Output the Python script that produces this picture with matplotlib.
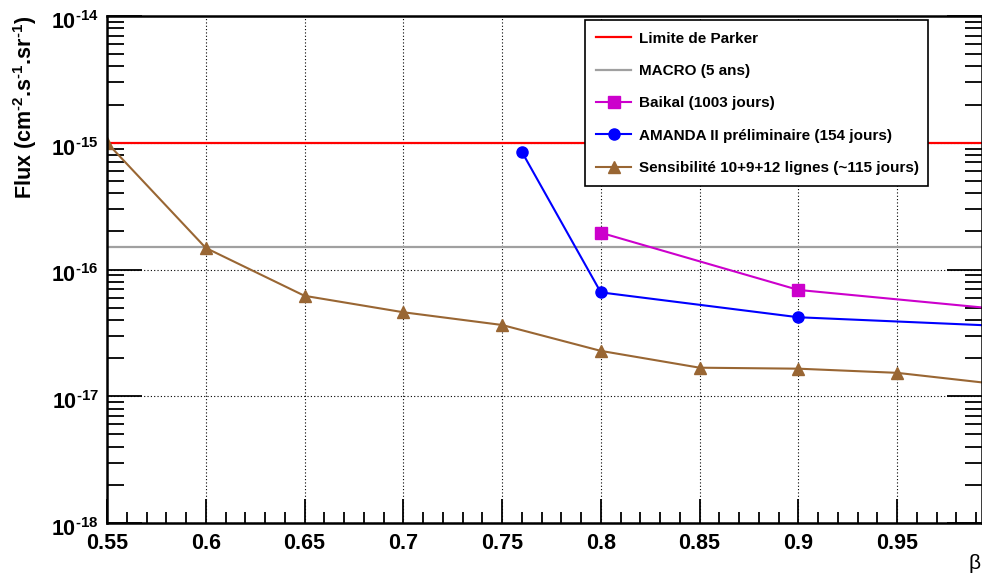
import matplotlib
matplotlib.use("Agg")
import matplotlib.pyplot as plt
import matplotlib.ticker as mticker
import matplotlib.transforms as mtrans
import numpy as np

plt.rcParams['font.family'] = ['Liberation Sans', 'DejaVu Sans']
plt.rcParams['mathtext.fontset'] = 'custom'
plt.rcParams['mathtext.rm'] = 'Liberation Sans:bold'
plt.rcParams['mathtext.bf'] = 'Liberation Sans:bold'
plt.rcParams['mathtext.it'] = 'Liberation Sans:bold'

# data
parker = 1.0e-15
macro = 1.5e-16

baikal_beta = [0.8, 0.9, 1.0]
baikal_flux = [1.95e-16, 6.9e-17, 4.9e-17]

amanda_beta = [0.76, 0.8, 0.9, 1.0]
amanda_flux = [8.5e-16, 6.6e-17, 4.2e-17, 3.6e-17]

sens_beta = [0.55, 0.6, 0.65, 0.7, 0.75, 0.8, 0.85, 0.9, 0.95, 1.0]
sens_flux = [1.0e-15, 1.48e-16, 6.2e-17, 4.6e-17, 3.65e-17, 2.28e-17,
             1.68e-17, 1.65e-17, 1.53e-17, 1.25e-17]

fig = plt.figure(figsize=(9.82, 5.75), dpi=100)
ax = fig.add_axes([107/982, 1 - 523/575, 875/982, 507/575])

ax.axhline(parker, color='#ff0000', lw=1.6, label='Limite de Parker')
ax.axhline(macro, color='#a0a0a0', lw=1.6, label='MACRO (5 ans)')
ax.plot(baikal_beta, baikal_flux, color='#cc00cc', lw=1.5, marker='s', ms=8,
        label='Baikal (1003 jours)')
ax.plot(amanda_beta, amanda_flux, color='#0000ff', lw=1.5, marker='o', ms=8,
        label='AMANDA II préliminaire (154 jours)')
ax.plot(sens_beta, sens_flux, color='#996633', lw=1.5, marker='^', ms=8,
        label='Sensibilité 10+9+12 lignes (~115 jours)')

ax.set_yscale('log')
ax.set_ylim(1e-18, 1e-14)
ax.set_xlim(0.55, 0.993)

ax.xaxis.set_major_locator(mticker.MultipleLocator(0.05))
ax.xaxis.set_minor_locator(mticker.MultipleLocator(0.01))
ax.xaxis.set_major_formatter(mticker.FuncFormatter(lambda v, p: f'{v:g}'))
ax.yaxis.set_major_locator(mticker.FixedLocator([1e-18, 1e-17, 1e-16, 1e-15, 1e-14]))
ax.yaxis.set_minor_locator(mticker.LogLocator(base=10, subs=np.arange(2, 10), numticks=20))
ax.yaxis.set_major_formatter(mticker.FuncFormatter(
    lambda v, p: r'$\mathbf{10^{\text{-}%d}}$' % abs(round(np.log10(v)))))
ax.yaxis.set_minor_formatter(mticker.NullFormatter())

ax.tick_params(axis='both', which='both', direction='in', right=True, top=False,
               labelsize=15.5, width=1.3)
ax.tick_params(axis='y', which='major', length=25, pad=6)
ax.tick_params(axis='y', which='minor', length=12)
ax.tick_params(axis='x', which='major', length=17, pad=7)
ax.tick_params(axis='x', which='minor', length=8)
for lab in ax.get_xticklabels():
    lab.set_fontweight('bold')
shift = mtrans.ScaledTranslation(0, -4/100, fig.dpi_scale_trans)
for lab in ax.get_yticklabels():
    lab.set_transform(lab.get_transform() + shift)

for s in ax.spines.values():
    s.set_linewidth(1.8)

ax.grid(True, which='major', color='black', ls=(0, (1, 2)), lw=0.8)

ax.set_ylabel(r'Flux (cm$^{\text{-}2}$.s$^{\text{-}1}$.sr$^{\text{-}1}$)', fontsize=15.5,
              fontweight='bold', loc='top')
ax.yaxis.set_label_coords(-0.078, 1.0)

fig.text(968/982, 2/575, 'β', fontsize=15, ha='left', va='bottom')

leg = ax.legend(loc='upper left', bbox_to_anchor=(0.546, 0.667, 0.392, 0.325),
                mode='expand', prop={'weight': 'bold', 'size': 11},
                handlelength=2.3, handletextpad=0.5, labelspacing=1.2,
                borderpad=0.75, borderaxespad=0, fancybox=False, framealpha=1,
                edgecolor='black')
leg.get_frame().set_linewidth(1.2)

fig.savefig('out.png', dpi=100)
